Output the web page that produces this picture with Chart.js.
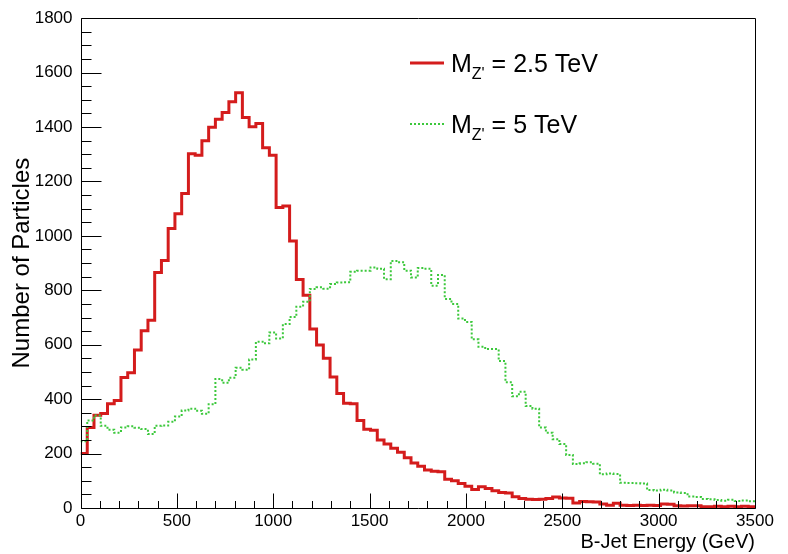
<!DOCTYPE html>
<html>
<head>
<meta charset="utf-8">
<script src="https://cdn.jsdelivr.net/npm/chart.js@4.4.1/dist/chart.umd.min.js"></script>
<style>
  html, body { margin: 0; padding: 0; background: #fff; }
  #wrap { width: 788px; height: 554px; position: relative; }
</style>
</head>
<body>
<div id="wrap"><canvas id="c" width="788" height="554"></canvas></div>
<script>
// ---- data (100 bins of 35 GeV from 0 to 3500 GeV) ----
const binWidth = 35;
const xMin = 0, xMax = 3500, yMin = 0, yMax = 1800;

const redCounts = [
  200, 296, 341, 347, 383, 395, 480, 497, 581, 651,
  690, 865, 910, 1027, 1081, 1156, 1302, 1296, 1350, 1399,
  1429, 1453, 1493, 1526, 1435, 1401, 1413, 1324, 1296, 1104,
  1110, 981, 840, 782, 658, 599, 550, 481, 421, 385,
  383, 322, 289, 286, 250, 235, 220, 205, 185, 165,
  153, 140, 135, 133, 106, 100, 90, 80, 68, 78,
  72, 63, 57, 55, 41, 35, 32, 31, 32, 35,
  40, 37, 36, 18, 24, 23, 22, 15, 10, 17,
  10, 9, 10, 9, 10, 9, 15, 14, 8, 7,
  8, 8, 5, 5, 6, 5, 6, 5, 6, 5
];

const greenCounts = [
  245, 322, 340, 302, 288, 277, 296, 300, 295, 290,
  272, 302, 303, 317, 336, 358, 365, 357, 346, 381,
  474, 460, 479, 515, 508, 546, 611, 605, 645, 623,
  676, 702, 740, 758, 805, 811, 806, 823, 829, 830,
  868, 872, 872, 884, 879, 841, 908, 903, 872, 847,
  882, 879, 817, 856, 768, 750, 696, 684, 620, 593,
  584, 584, 540, 462, 411, 427, 375, 365, 296, 277,
  253, 235, 195, 162, 164, 168, 163, 124, 127, 125,
  93, 92, 91, 90, 66, 64, 67, 64, 57, 55,
  42, 40, 33, 32, 29, 27, 30, 26, 28, 25
];

const seriesLabels = ["2.5 TeV", "5 TeV"];
const xTitle = "B-Jet Energy (GeV)";
const yTitle = "Number of Particles";

// ---- build histogram step points from the bin arrays ----
function histPoints(counts) {
  const pts = counts.map((v, i) => ({ x: xMin + i * binWidth, y: v }));
  pts.push({ x: xMin + counts.length * binWidth, y: counts[counts.length - 1] });
  return pts;
}

const FONT = "'Liberation Sans', Arial, Helvetica, sans-serif";
const RED = '#d41c1c';
const GREEN = '#3cc83c';

// ROOT-like frame with inward ticks, drawn from the chart's scales
const frameTicks = {
  id: 'frameTicks',
  afterDatasetsDraw(chart) {
    const { ctx, chartArea: a, scales: { x, y } } = chart;
    ctx.save();
    ctx.strokeStyle = '#000';
    ctx.lineWidth = 1;
    const L = Math.round(a.left) + 0.5, R = Math.round(a.right) + 0.5;
    const T = Math.round(a.top) + 0.5, B = Math.round(a.bottom) + 0.5;
    ctx.beginPath();
    ctx.rect(L, T, R - L, B - T);
    ctx.stroke();
    ctx.beginPath();
    for (let v = xMin; v <= xMax; v += 100) {
      const px = Math.round(x.getPixelForValue(v)) + 0.5;
      const len = (v % 500 === 0) ? 15 : 7.5;
      ctx.moveTo(px, B);
      ctx.lineTo(px, B - len);
    }
    for (let v = yMin; v <= yMax; v += 50) {
      const py = Math.round(y.getPixelForValue(v)) + 0.5;
      const len = (v % 200 === 0) ? 20 : 10;
      ctx.moveTo(L, py);
      ctx.lineTo(L + len, py);
    }
    ctx.stroke();
    ctx.restore();
  }
};

// legend with subscripted M_{Z'}
const rootLegend = {
  id: 'rootLegend',
  afterDraw(chart) {
    const { ctx } = chart;
    const ds = chart.data.datasets;
    const rows = [
      { y: 63, ds: ds[0], label: seriesLabels[0] },
      { y: 124, ds: ds[1], label: seriesLabels[1] }
    ];
    ctx.save();
    rows.forEach(r => {
      ctx.beginPath();
      ctx.strokeStyle = r.ds.borderColor;
      ctx.lineWidth = r.ds.borderWidth;
      ctx.setLineDash(r.ds.borderDash || []);
      ctx.moveTo(410, r.y);
      ctx.lineTo(444, r.y);
      ctx.stroke();
      ctx.setLineDash([]);
      ctx.fillStyle = '#000';
      ctx.textBaseline = 'alphabetic';
      ctx.textAlign = 'left';
      let xx = 451;
      const base = r.y + 9;
      ctx.font = '25px ' + FONT;
      ctx.fillText('M', xx, base);
      xx += ctx.measureText('M').width;
      ctx.font = '16px ' + FONT;
      ctx.fillText("Z'", xx, base + 7);
      xx += ctx.measureText("Z'").width;
      ctx.font = '25px ' + FONT;
      ctx.fillText(' = ' + r.label, xx, base);
    });
    ctx.restore();
  }
};

new Chart(document.getElementById('c'), {
  type: 'line',
  data: {
    datasets: [
      {
        label: "M_Z' = " + seriesLabels[0],
        data: histPoints(redCounts),
        borderColor: RED,
        borderWidth: 3,
        stepped: true,
        pointRadius: 0,
        fill: false,
        order: 1
      },
      {
        label: "M_Z' = " + seriesLabels[1],
        data: histPoints(greenCounts),
        borderColor: GREEN,
        borderWidth: 2,
        borderDash: [2, 2],
        stepped: true,
        pointRadius: 0,
        fill: false,
        order: 0
      }
    ]
  },
  options: {
    responsive: false,
    animation: false,
    events: [],
    layout: { padding: { left: 0, top: 13, right: 33, bottom: 0 } },
    plugins: { legend: { display: false }, tooltip: { enabled: false } },
    scales: {
      x: {
        type: 'linear', min: xMin, max: xMax,
        grid: { display: false, drawTicks: false },
        border: { display: false },
        ticks: {
          stepSize: 500, maxRotation: 0, autoSkip: false, padding: 3,
          color: '#000', font: { family: FONT, size: 17 },
          callback: v => String(v)
        },
        title: {
          display: true, text: xTitle, align: 'end', color: '#000',
          font: { family: FONT, size: 20 }, padding: { top: 0, bottom: 0 }
        },
        afterFit(s) { s.height = 46; }
      },
      y: {
        type: 'linear', min: yMin, max: yMax,
        grid: { display: false, drawTicks: false },
        border: { display: false },
        ticks: {
          stepSize: 200, padding: 8,
          color: '#000', font: { family: FONT, size: 17 },
          callback: v => String(v)
        },
        title: {
          display: true, text: yTitle, color: '#000',
          font: { family: FONT, size: 24 }, padding: { top: 8, bottom: 0 }
        },
        afterFit(s) { s.width = 80.5; }
      }
    }
  },
  plugins: [frameTicks, rootLegend]
});
</script>
</body>
</html>
